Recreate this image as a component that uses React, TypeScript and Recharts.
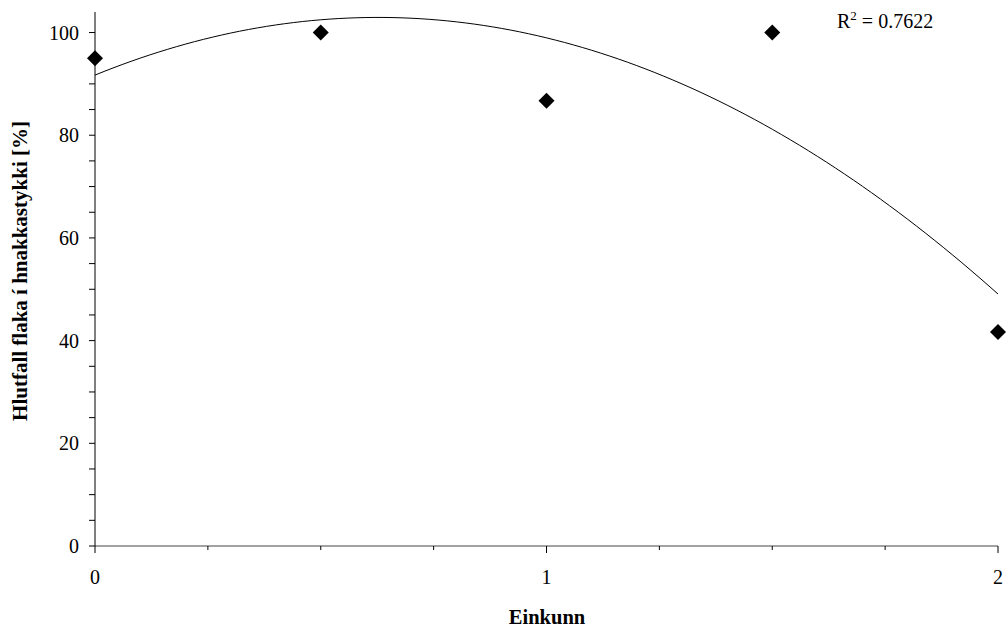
import { ScatterChart, Scatter, XAxis, YAxis } from 'recharts';

const einkunn = [0, 0.5, 1, 1.5, 2];
const hlutfall = [95, 100, 86.7, 100, 41.7];
const xTicks = [0, 0.25, 0.5, 0.75, 1, 1.25, 1.5, 1.75, 2];
const yTicks = [0, 5, 10, 15, 20, 25, 30, 35, 40, 45, 50, 55, 60, 65, 70, 75, 80, 85, 90, 95, 100];
const xTitle = 'Einkunn';
const yTitle = 'Hlutfall flaka í hnakkastykki [%]';
const r2Value = '0.7622';

const FONT = "'Liberation Serif', 'Times New Roman', serif";

const points = einkunn.map((x, i) => ({ x, y: hlutfall[i] }));

// least squares 2nd order polynomial, same as the Excel trendline
function quadFit(xs: number[], ys: number[]) {
  const s = [0, 0, 0, 0, 0];
  const t = [0, 0, 0];
  xs.forEach((x, i) => {
    for (let k = 0; k < 5; k++) s[k] += Math.pow(x, k);
    for (let k = 0; k < 3; k++) t[k] += Math.pow(x, k) * ys[i];
  });
  const m = [
    [s[0], s[1], s[2]],
    [s[1], s[2], s[3]],
    [s[2], s[3], s[4]],
  ];
  const det = (a: number[][]) =>
    a[0][0] * (a[1][1] * a[2][2] - a[1][2] * a[2][1]) -
    a[0][1] * (a[1][0] * a[2][2] - a[1][2] * a[2][0]) +
    a[0][2] * (a[1][0] * a[2][1] - a[1][1] * a[2][0]);
  const d = det(m);
  const coef = [0, 1, 2].map((c) => det(m.map((row, r) => row.map((v, j) => (j === c ? t[r] : v)))) / d);
  return (x: number) => coef[0] + coef[1] * x + coef[2] * x * x;
}

const fit = quadFit(einkunn, hlutfall);
const trend = Array.from({ length: 101 }, (_, i) => {
  const x = (i / 100) * 2;
  return { x, y: fit(x) };
});

const Diamond = (props: any) => {
  const { cx, cy } = props;
  const r = 8;
  return <polygon points={`${cx},${cy - r} ${cx + r},${cy} ${cx},${cy + r} ${cx - r},${cy}`} fill="#000" />;
};

const YTick = (props: any) => {
  const { x, y, payload } = props;
  const major = payload.value % 20 === 0;
  return (
    <g>
      <line x1={x - 6} x2={x} y1={y} y2={y} stroke="#000" />
      {major && (
        <text x={x - 16} y={y} dy={7} textAnchor="end" fontSize={20} fontFamily={FONT} fill="#000">
          {payload.value}
        </text>
      )}
    </g>
  );
};

const XTick = (props: any) => {
  const { x, y, payload } = props;
  const major = Number.isInteger(payload.value);
  return (
    <g>
      <line x1={x} x2={x} y1={y} y2={y + (major ? 7 : 4)} stroke="#000" />
      {major && (
        <text x={x} y={y + 38} textAnchor="middle" fontSize={20} fontFamily={FONT} fill="#000">
          {payload.value}
        </text>
      )}
    </g>
  );
};

export default function App() {
  return (
    <div style={{ position: 'absolute', top: 0, left: 0, width: 1006, height: 630, background: '#fff' }}>
      <ScatterChart width={1006} height={630} margin={{ top: 12, right: 8, bottom: 0, left: 0 }} style={{ overflow: 'visible' }}>
        <XAxis
          type="number"
          dataKey="x"
          domain={[0, 2]}
          ticks={xTicks}
          interval={0}
          height={84}
          tickSize={0}
          tickMargin={0}
          tickLine={false}
          tick={<XTick />}
          axisLine={{ stroke: '#444' }}
          label={{
            value: xTitle,
            content: () => (
              <text x={547} y={624} textAnchor="middle" fontSize={20.5} fontWeight="bold" fontFamily={FONT} fill="#000">
                {xTitle}
              </text>
            ),
          }}
        />
        <YAxis
          type="number"
          dataKey="y"
          domain={[0, 104]}
          ticks={yTicks}
          interval={0}
          width={95}
          tickSize={0}
          tickMargin={0}
          tickLine={false}
          tick={<YTick />}
          axisLine={{ stroke: '#000' }}
          label={{
            value: yTitle,
            content: () => (
              <text
                x={20}
                y={271}
                transform="rotate(-90 20 271)"
                textAnchor="middle"
                dominantBaseline="central"
                fontSize={21}
                fontWeight="bold"
                fontFamily={FONT}
                fill="#000"
              >
                {yTitle}
              </text>
            ),
          }}
        />
        <Scatter
          data={trend}
          line={{ stroke: '#000', strokeWidth: 1 }}
          lineType="joint"
          shape={() => null}
          isAnimationActive={false}
        />
        <Scatter data={points} shape={<Diamond />} isAnimationActive={false} />
      </ScatterChart>
      <div
        style={{
          position: 'absolute',
          left: 837,
          top: 11,
          fontFamily: FONT,
          fontSize: 20,
          lineHeight: '20px',
          whiteSpace: 'nowrap',
          color: '#000',
        }}
      >
        R<span style={{ position: 'relative', top: -8, fontSize: 13 }}>2</span> = {r2Value}
      </div>
    </div>
  );
}
